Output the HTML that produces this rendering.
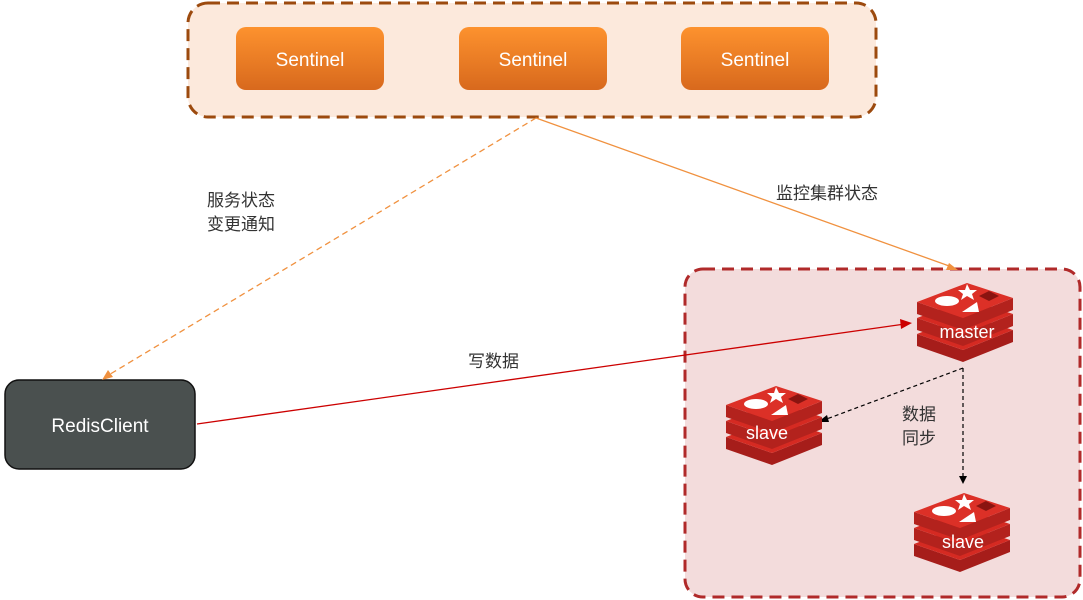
<!DOCTYPE html>
<html><head><meta charset="utf-8"><style>
html,body{margin:0;padding:0;background:#fff;width:1083px;height:600px;overflow:hidden}
text{font-family:"Liberation Sans","Noto Sans CJK SC",sans-serif}
</style></head><body>
<svg width="1083" height="600" viewBox="0 0 1083 600" xmlns="http://www.w3.org/2000/svg">
<defs>
<linearGradient id="og" x1="0" y1="0" x2="0" y2="1">
<stop offset="0" stop-color="#fd922e"/><stop offset="1" stop-color="#d8691d"/></linearGradient>
<g id="redis">
<g transform="translate(0,32)"><polygon points="0,22 46,38 96,18 96,30 46,50 0,34" fill="#a61d1a"/><polygon points="0,22 50,3 96,18 46,38" fill="#d52a22"/></g>
<g transform="translate(0,16)"><polygon points="0,22 46,38 96,18 96,30 46,50 0,34" fill="#b3221d"/><polygon points="0,22 50,3 96,18 46,38" fill="#d52a22"/></g>
<polygon points="0,22 46,38 96,18 96,30 46,50 0,34" fill="#b3221d"/>
<polygon points="0,22 50,3 96,18 46,38" fill="#dc3027"/>
<ellipse cx="30" cy="21" rx="12" ry="5" fill="#fff"/>
<polygon points="50,4 53,10 60,10 55,14 57,20 50,16 44,20 46,14 41,10 48,10" fill="#fff"/>
<polygon points="45,32 60,22 62,32" fill="#fff"/>
<polygon points="62,16 72,11 82,16 72,21" fill="#8a1410"/>
</g>
</defs>
<rect x="188" y="3" width="688" height="114" rx="20" fill="#fce9dc" stroke="#9c4a0e" stroke-width="3" stroke-dasharray="12,7"/>
<g>
<rect x="236" y="27" width="148" height="63" rx="10" fill="url(#og)"/>
<rect x="459" y="27" width="148" height="63" rx="10" fill="url(#og)"/>
<rect x="681" y="27" width="148" height="63" rx="10" fill="url(#og)"/>
<text x="310" y="66" font-size="19" fill="#fff" text-anchor="middle">Sentinel</text>
<text x="533" y="66" font-size="19" fill="#fff" text-anchor="middle">Sentinel</text>
<text x="755" y="66" font-size="19" fill="#fff" text-anchor="middle">Sentinel</text>
</g>
<rect x="685" y="269" width="395" height="328" rx="18" fill="#f3dcdc" stroke="#b02a2a" stroke-width="3" stroke-dasharray="12,7"/>
<rect x="5" y="380" width="190" height="89" rx="14" fill="#4a504f" stroke="#111" stroke-width="1.5"/>
<text x="100" y="432" font-size="19" fill="#fff" text-anchor="middle">RedisClient</text>
<line x1="536" y1="118" x2="107" y2="376" stroke="#f0913f" stroke-width="1.3" stroke-dasharray="6,4"/>
<polygon points="102,380 108,370 113,377" fill="#f0913f"/>
<line x1="536" y1="118" x2="952" y2="267" stroke="#f0913f" stroke-width="1.3"/>
<polygon points="958,270 946,270 949,263" fill="#f0913f"/>
<line x1="197" y1="424" x2="905" y2="324" stroke="#c00" stroke-width="1.3"/>
<polygon points="912,323 900,319 901,329" fill="#c00"/>
<polyline points="963,368 824,420" fill="none" stroke="#000" stroke-width="1.2" stroke-dasharray="4,3"/>
<polygon points="818,422 827,415 829,422" fill="#000"/>
<line x1="963" y1="368" x2="963" y2="476" stroke="#000" stroke-width="1.2" stroke-dasharray="4,3"/>
<polygon points="959,476 967,476 963,484" fill="#000"/>
<use href="#redis" x="917" y="280"/>
<use href="#redis" x="726" y="383"/>
<use href="#redis" x="914" y="490"/>
<text x="967" y="338" font-size="18" fill="#fff" text-anchor="middle">master</text>
<text x="767" y="439" font-size="18" fill="#fff" text-anchor="middle">slave</text>
<text x="963" y="548" font-size="18" fill="#fff" text-anchor="middle">slave</text>
<text x="207" y="206" font-size="17" fill="#333">服务状态</text>
<text x="207" y="230" font-size="17" fill="#333">变更通知</text>
<text x="776" y="199" font-size="17" fill="#333">监控集群状态</text>
<text x="468" y="367" font-size="17" fill="#333">写数据</text>
<text x="902" y="420" font-size="17" fill="#333">数据</text>
<text x="902" y="444" font-size="17" fill="#333">同步</text>
</svg>
</body></html>
